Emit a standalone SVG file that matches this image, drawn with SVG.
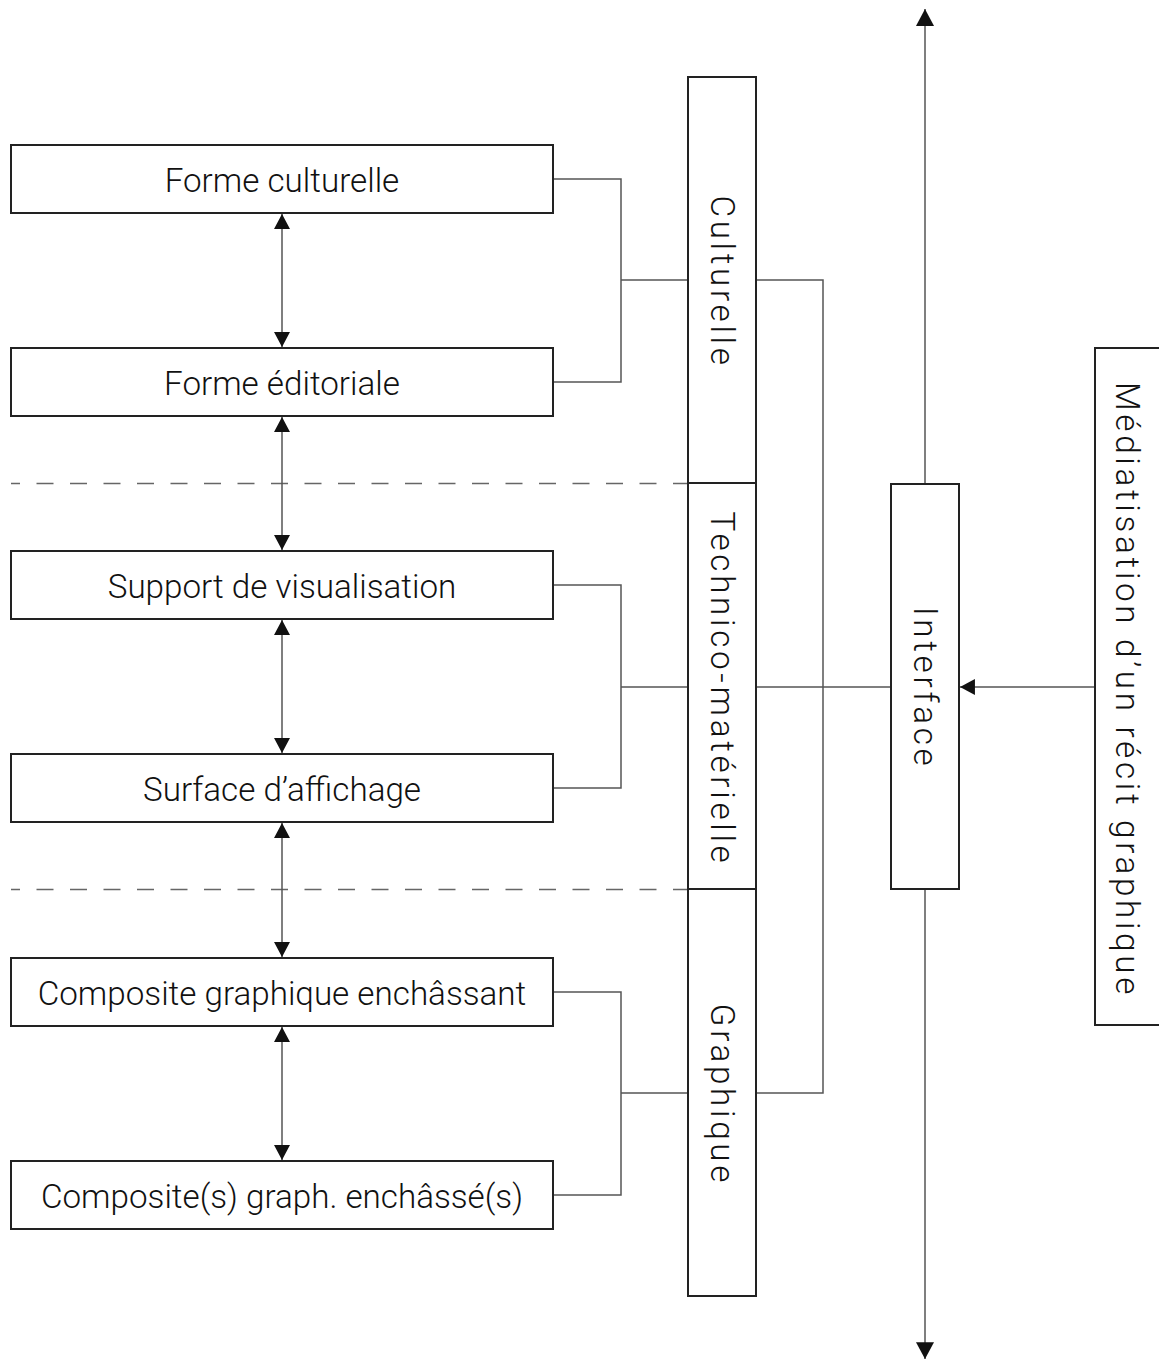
<svg xmlns="http://www.w3.org/2000/svg" width="1159" height="1360" viewBox="0 0 1159 1360">
<defs>
<style>
.box{fill:#fff;stroke:#222;stroke-width:2}
.ln{fill:none;stroke:#555;stroke-width:1.5}
.dash{fill:none;stroke:#666;stroke-width:1.5;stroke-dasharray:17 16.5;stroke-dashoffset:8}
.t{font-family:Roboto,"Liberation Sans",sans-serif;font-size:33.2px;font-weight:300;fill:#111;text-anchor:middle;dominant-baseline:central}
.v{letter-spacing:3.7px}
</style>
<marker id="ah" markerUnits="userSpaceOnUse" markerWidth="18" markerHeight="18" viewBox="0 0 16 16" refX="15" refY="8" orient="auto-start-reverse">
<path d="M0,0 L15,8 L0,16 Z" fill="#111"/>
</marker>
<marker id="ab" markerUnits="userSpaceOnUse" markerWidth="16" markerHeight="16" viewBox="0 0 14 15" refX="14" refY="7.5" orient="auto-start-reverse">
<path d="M0,0 L14,7.5 L0,15 Z" fill="#111"/>
</marker>
</defs>
<rect width="1159" height="1360" fill="#fff"/>
<g id="connectors">
<line class="dash" x1="11" y1="483.5" x2="688" y2="483.5"/>
<line class="dash" x1="11" y1="889.5" x2="688" y2="889.5"/>
<polyline class="ln" points="553,179 621,179 621,382 553,382"/>
<line class="ln" x1="621" y1="280" x2="688" y2="280"/>
<polyline class="ln" points="553,585 621,585 621,788 553,788"/>
<line class="ln" x1="621" y1="687" x2="688" y2="687"/>
<polyline class="ln" points="553,992 621,992 621,1195 553,1195"/>
<line class="ln" x1="621" y1="1093" x2="688" y2="1093"/>
<polyline class="ln" points="756,280 823,280 823,1093 756,1093"/>
<line class="ln" x1="756" y1="687" x2="891" y2="687"/>
<line class="ln" x1="1095" y1="687" x2="960" y2="687" marker-end="url(#ab)"/>
<line class="ln" x1="925" y1="484" x2="925" y2="9" marker-end="url(#ah)"/>
<line class="ln" x1="925" y1="889" x2="925" y2="1359" marker-end="url(#ah)"/>
<line class="ln" x1="282" y1="214" x2="282" y2="347" marker-start="url(#ab)" marker-end="url(#ab)"/>
<line class="ln" x1="282" y1="417" x2="282" y2="550" marker-start="url(#ab)" marker-end="url(#ab)"/>
<line class="ln" x1="282" y1="620" x2="282" y2="753" marker-start="url(#ab)" marker-end="url(#ab)"/>
<line class="ln" x1="282" y1="823" x2="282" y2="957" marker-start="url(#ab)" marker-end="url(#ab)"/>
<line class="ln" x1="282" y1="1027" x2="282" y2="1160" marker-start="url(#ab)" marker-end="url(#ab)"/>
</g>
<g id="n1"><rect class="box" x="11" y="145" width="542" height="68"/><text class="t" x="282" y="180">Forme culturelle</text></g>
<g id="n2"><rect class="box" x="11" y="348" width="542" height="68"/><text class="t" x="282" y="383">Forme éditoriale</text></g>
<g id="n3"><rect class="box" x="11" y="551" width="542" height="68"/><text class="t" x="282" y="586">Support de visualisation</text></g>
<g id="n4"><rect class="box" x="11" y="754" width="542" height="68"/><text class="t" x="282" y="789">Surface d’affichage</text></g>
<g id="n5"><rect class="box" x="11" y="958" width="542" height="68"/><text class="t" x="282" y="993">Composite graphique enchâssant</text></g>
<g id="n6"><rect class="box" x="11" y="1161" width="542" height="68"/><text class="t" x="282" y="1196">Composite(s) graph. enchâssé(s)</text></g>
<g id="culturelle"><rect class="box" x="688" y="77" width="68" height="406"/><text class="t v" transform="translate(722,282) rotate(90)">Culturelle</text></g>
<g id="technico"><rect class="box" x="688" y="483" width="68" height="406"/><text class="t v" transform="translate(722,689) rotate(90)">Technico-matérielle</text></g>
<g id="graphique"><rect class="box" x="688" y="889" width="68" height="407"/><text class="t v" transform="translate(722,1095) rotate(90)">Graphique</text></g>
<g id="interface"><rect class="box" x="891" y="484" width="68" height="405"/><text class="t v" transform="translate(925,688) rotate(90)">Interface</text></g>
<g id="mediatisation"><rect class="box" x="1095" y="348" width="70" height="677"/><text class="t v" transform="translate(1127,690) rotate(90)">Médiatisation d’un récit graphique</text></g>
</svg>
